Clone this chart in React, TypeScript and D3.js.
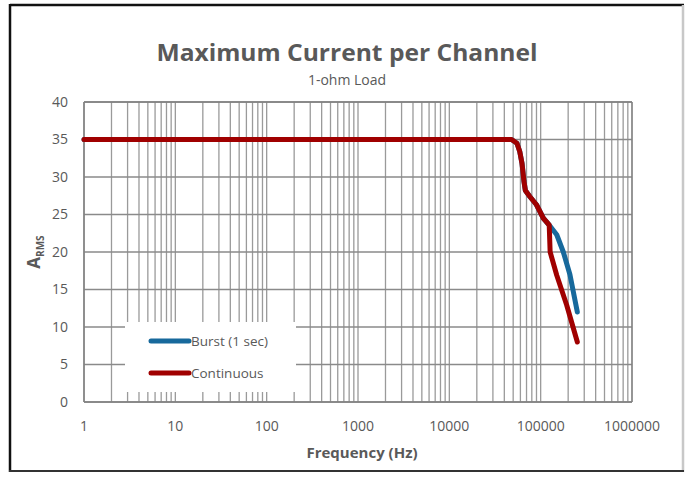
import React from "react";
import * as d3 from "d3";

const xTickValues = [1, 10, 100, 1000, 10000, 100000, 1000000];
const xTickLabels = ["1", "10", "100", "1000", "10000", "100000", "1000000"];
const yTickValues = [0, 5, 10, 15, 20, 25, 30, 35, 40];

const continuousFreq = [1, 48000, 55000, 59000, 62500, 65500, 68000, 76000, 90000, 107000, 124000, 127000, 150000, 193000, 252000];
const continuousAmps = [35, 35, 34.5, 33.4, 31.8, 29.5, 28.2, 27.4, 26.3, 24.5, 23.6, 20.0, 16.9, 12.9, 8.0];

const burstFreq = [1, 48000, 55000, 59000, 62500, 65500, 68000, 76000, 90000, 107000, 124000, 150000, 177000, 209000, 252000];
const burstAmps = [35, 35, 34.5, 33.4, 31.8, 29.5, 28.2, 27.4, 26.3, 24.5, 23.6, 22.3, 20.0, 17.0, 12.0];

const seriesNames = ["Burst (1 sec)", "Continuous"];
const seriesColors = ["#17699c", "#a00000"];

export default function App() {
  const W = 690, H = 477;
  const L = 84, R = 632, T = 102, B = 402;
  const x = d3.scaleLog().domain([1, 1000000]).range([L, R]);
  const y = d3.scaleLinear().domain([0, 40]).range([B, T]);

  const minor: number[] = [];
  for (let e = 0; e < 6; e++) {
    for (let k = 1; k <= 9; k++) minor.push(k * Math.pow(10, e));
  }
  minor.push(1000000);

  const line = d3
    .line<[number, number]>()
    .x((d) => x(d[0]))
    .y((d) => y(d[1]))
    .curve(d3.curveLinear);

  const burst = burstFreq.map((f, i) => [f, burstAmps[i]] as [number, number]);
  const cont = continuousFreq.map((f, i) => [f, continuousAmps[i]] as [number, number]);

  const textColor = "#595959";
  const font = "'Open Sans', 'Liberation Sans', sans-serif";

  const legX = 125, legY = 322, legW = 171, legH = 70;

  return (
    <svg
      width={W}
      height={H}
      style={{ position: "absolute", left: 0, top: 0, background: "#fff" }}
      fontFamily={font}
    >
      <rect x={0} y={0} width={W} height={H} fill="#fff" />
      {/* frame */}
      <line x1={10} y1={5} x2={684} y2={5} stroke="#111" strokeWidth={2.5} />
      <line x1={10} y1={4} x2={10} y2={472} stroke="#111" strokeWidth={2.5} />
      <line x1={683} y1={5} x2={683} y2={472} stroke="#c8c8c8" strokeWidth={2.5} />
      <line x1={9} y1={471} x2={684} y2={471} stroke="#333" strokeWidth={2} />

      {/* title */}
      <text x={347} y={61} textAnchor="middle" fontSize={24} fontWeight="bold" fill={textColor}
        textLength={381} lengthAdjust="spacingAndGlyphs">
        Maximum Current per Channel
      </text>
      <text x={347} y={85} textAnchor="middle" fontSize={14} fill={textColor}>
        1-ohm Load
      </text>

      {/* vertical grid */}
      {minor.map((v, i) => (
        <line key={"vx" + i} x1={x(v)} x2={x(v)} y1={T} y2={B} stroke="#9a9a9a" strokeWidth={1.3} />
      ))}
      {/* horizontal grid */}
      {yTickValues.map((v) => (
        <line key={"hy" + v} x1={L} x2={R} y1={y(v)} y2={y(v)} stroke="#8a8a8a" strokeWidth={1.3} />
      ))}
      {/* axes */}
      <line x1={L} x2={L} y1={T} y2={B} stroke="#808080" strokeWidth={1.5} />
      <line x1={L} x2={R} y1={B} y2={B} stroke="#808080" strokeWidth={1.5} />
      <line x1={R} x2={R} y1={T} y2={B} stroke="#808080" strokeWidth={1.3} />
      <line x1={L} x2={R} y1={T} y2={T} stroke="#808080" strokeWidth={1.3} />

      {/* tick labels */}
      {yTickValues.map((v) => (
        <text key={"yl" + v} x={68} y={y(v)} dy="0.35em" textAnchor="end" fontSize={14} fill={textColor}>
          {v}
        </text>
      ))}
      {xTickValues.map((v, i) => (
        <text key={"xl" + v} x={x(v)} y={426} dy="0.35em" textAnchor="middle" fontSize={14} fill={textColor}>
          {xTickLabels[i]}
        </text>
      ))}

      {/* axis titles */}
      <text x={362} y={458} textAnchor="middle" fontSize={15} fontWeight="bold" fill={textColor}>
        Frequency (Hz)
      </text>
      <text transform={`translate(40,252) rotate(-90)`} textAnchor="middle" fontSize={17} fill={textColor} fontWeight="bold">
        A<tspan fontSize={10} dy={4}>RMS</tspan>
      </text>

      {/* series */}
      <path d={line(burst) || ""} fill="none" stroke={seriesColors[0]} strokeWidth={5} strokeLinecap="round" strokeLinejoin="round" />
      <path d={line(cont) || ""} fill="none" stroke={seriesColors[1]} strokeWidth={5} strokeLinecap="round" strokeLinejoin="round" />

      {/* legend */}
      <rect x={legX} y={legY} width={legW} height={legH} fill="#fff" />
      {seriesNames.map((n, i) => {
        const ly = 341 + i * 32;
        return (
          <g key={n}>
            <line x1={151} x2={189} y1={ly} y2={ly} stroke={seriesColors[i]} strokeWidth={5} strokeLinecap="round" />
            <text x={191} y={ly} dy="0.35em" fontSize={13.5} fill={textColor}>
              {n}
            </text>
          </g>
        );
      })}
    </svg>
  );
}
